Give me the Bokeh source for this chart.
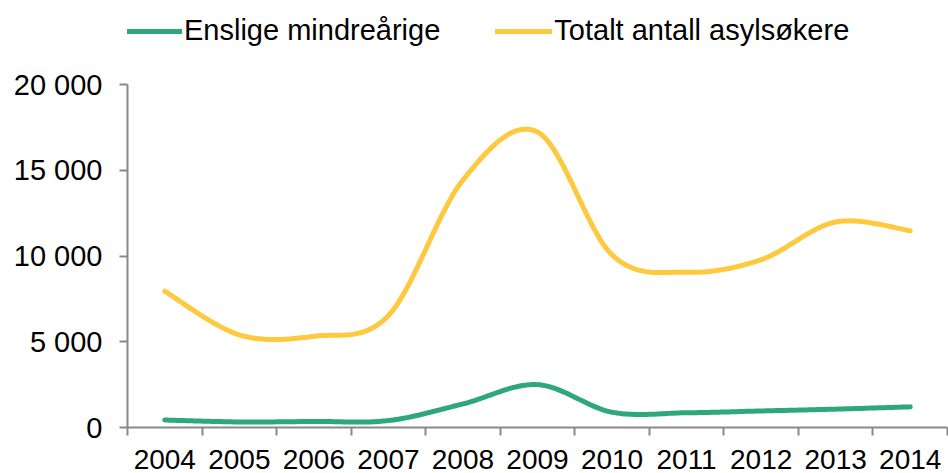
from bokeh.plotting import figure
from bokeh.models import (Range1d, FixedTicker, Legend, LegendItem, ColumnDataSource)
from bokeh.embed import file_html
from bokeh.resources import INLINE
import numpy as np

years = ["2004", "2005", "2006", "2007", "2008", "2009", "2010", "2011", "2012", "2013", "2014"]
enslige = [435, 324, 353, 403, 1374, 2500, 892, 858, 964, 1070, 1204]
totalt = [7945, 5402, 5320, 6528, 14431, 17226, 10064, 9053, 9785, 11983, 11480]
y_ticks = [0, 5000, 10000, 15000, 20000]
y_tick_labels = ["0", "5 000", "10 000", "15 000", "20 000"]
series_names = ["Enslige mindreårige", "Totalt antall asylsøkere"]
colors = ["#2EA87A", "#FDC93F"]

FONT = "Liberation Sans"

# layout (pixels)
W, H = 948, 473
LEFT, BOTTOM = 127, 46
AXIS_TOP = 84          # where 20 000 sits
FRAME_H = H - BOTTOM   # frame starts at the very top so the legend lives inside it
Y_MAX = y_ticks[-1] * FRAME_H / (FRAME_H - AXIS_TOP)


def smooth(xs, ys, n=30):
    # Catmull-Rom style smoothing (like a spreadsheet "smoothed line")
    xs = np.asarray(xs, float)
    ys = np.asarray(ys, float)
    px = np.concatenate([[xs[0]], xs, [xs[-1]]])
    py = np.concatenate([[ys[0]], ys, [ys[-1]]])
    outx, outy = [], []
    for i in range(1, len(px) - 2):
        p0x, p1x, p2x, p3x = px[i - 1], px[i], px[i + 1], px[i + 2]
        p0y, p1y, p2y, p3y = py[i - 1], py[i], py[i + 1], py[i + 2]
        c1x = p1x + (p2x - p0x) / 6.0
        c1y = p1y + (p2y - p0y) / 6.0
        c2x = p2x - (p3x - p1x) / 6.0
        c2y = p2y - (p3y - p1y) / 6.0
        t = np.linspace(0, 1, n, endpoint=(i == len(px) - 3))
        a = (1 - t) ** 3
        b = 3 * (1 - t) ** 2 * t
        c = 3 * (1 - t) * t ** 2
        d = t ** 3
        outx.extend(a * p1x + b * c1x + c * c2x + d * p2x)
        outy.extend(a * p1y + b * c1y + c * c2y + d * p2y)
    return outx, outy


xpos = [i + 0.5 for i in range(len(years))]

p = figure(width=W, height=H, output_backend="svg", toolbar_location=None,
           x_range=Range1d(0, len(years)), y_range=Range1d(0, Y_MAX),
           min_border_left=LEFT, min_border_right=1, min_border_top=0,
           min_border_bottom=BOTTOM)
p.outline_line_color = None
p.xgrid.visible = False
p.ygrid.visible = False
p.background_fill_color = "white"
p.border_fill_color = "white"

renderers = []
for vals, col in zip([enslige, totalt], colors):
    sx, sy = smooth(xpos, vals)
    src = ColumnDataSource(dict(x=sx, y=sy))
    r = p.line("x", "y", source=src, line_color=col, line_width=5, line_cap="round",
               line_join="round")
    renderers.append(r)

# x axis: labels at category centers, tick marks between categories
xa = p.xaxis[0]
xa.ticker = FixedTicker(ticks=xpos, minor_ticks=list(range(len(years) + 1)))
xa.major_label_overrides = {x: y for x, y in zip(xpos, years)}
xa.major_tick_line_color = None
xa.major_tick_out = 0
xa.major_tick_in = 0
xa.minor_tick_out = 8
xa.minor_tick_in = 0
xa.minor_tick_line_color = "#898989"
xa.minor_tick_line_width = 2
xa.axis_line_color = "#898989"
xa.axis_line_width = 2
xa.major_label_text_font = FONT
xa.major_label_text_font_size = "28px"
xa.major_label_text_color = "black"
xa.major_label_standoff = 14

ya = p.yaxis[0]
ya.ticker = FixedTicker(ticks=y_ticks, minor_ticks=[])
ya.bounds = (y_ticks[0], y_ticks[-1])
ya.major_label_overrides = {t: l for t, l in zip(y_ticks, y_tick_labels)}
ya.major_tick_out = 8
ya.major_tick_in = 0
ya.major_tick_line_color = "#898989"
ya.major_tick_line_width = 2
ya.axis_line_color = "#898989"
ya.axis_line_width = 2
ya.major_label_text_font = FONT
ya.major_label_text_font_size = "29px"
ya.major_label_text_color = "black"
ya.major_label_standoff = 17

legend = Legend(items=[LegendItem(label=n, renderers=[r]) for n, r in zip(series_names, renderers)],
                orientation="horizontal", location=(-2, FRAME_H - 47),
                glyph_width=57, glyph_height=20, label_standoff=2, spacing=55,
                label_text_font=FONT, label_text_font_size="29px",
                label_text_color="black",
                border_line_color=None, background_fill_alpha=0,
                padding=0, margin=0)
p.add_layout(legend, "center")

open("out.html", "w").write(file_html(p, INLINE))
